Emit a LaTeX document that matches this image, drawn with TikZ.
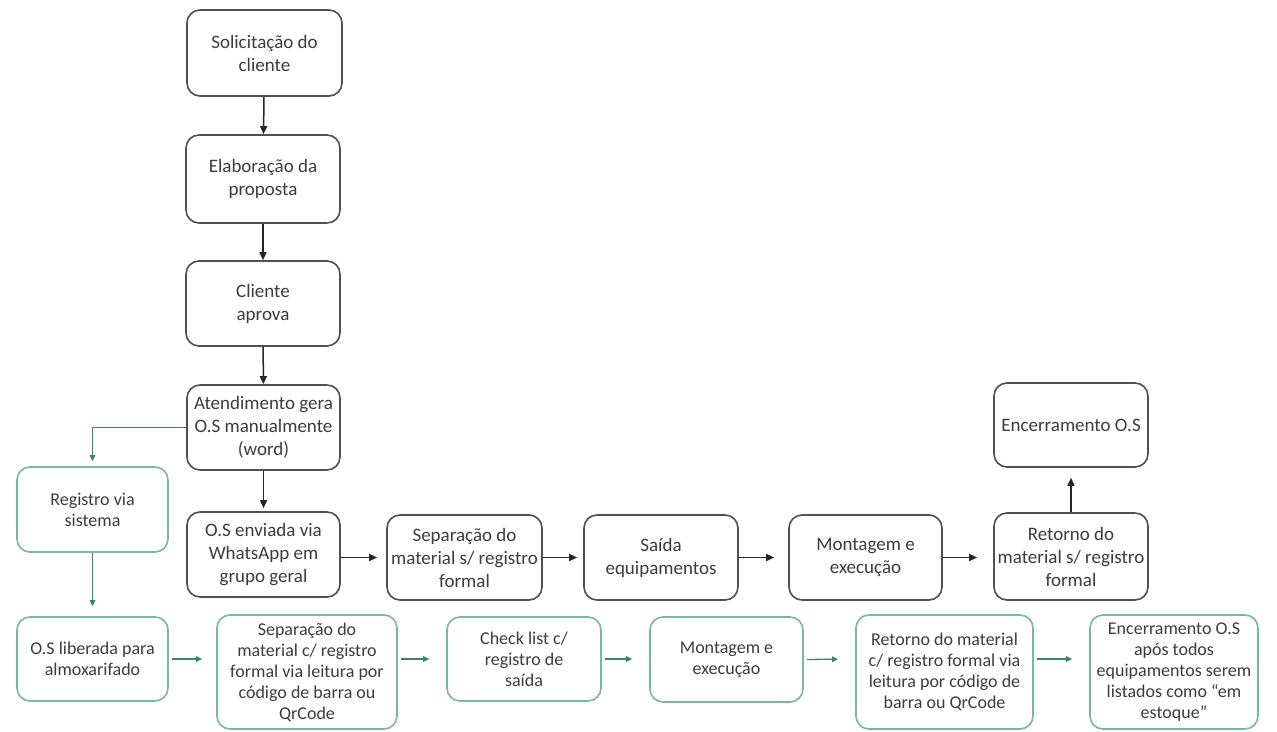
\documentclass[tikz,border=0pt]{standalone}
\usepackage{fontspec}
\setmainfont{Carlito}
\usetikzlibrary{arrows.meta,calc}
\definecolor{dk}{RGB}{80,80,80}
\definecolor{gline}{RGB}{55,135,105}
\definecolor{gbord}{RGB}{120,185,155}
\definecolor{txt}{RGB}{60,60,60}
\tikzset{
  bbox/.style={draw=dk, line width=1.6pt, rounded corners=13pt, align=center, text=txt, font=\fontsize{19}{23}\selectfont, inner sep=1pt},
  gbox/.style={draw=gbord, line width=1.6pt, rounded corners=13pt, align=center, text=txt, font=\fontsize{18}{21}\selectfont, inner sep=1pt},
  barrow/.style={draw=black!85, line width=1.5pt, -{Triangle[length=8pt,width=7pt]}},
  garrow/.style={draw=gline, line width=1.3pt, -{Triangle[length=6pt,width=5.5pt]}},
}
\begin{document}
\begin{tikzpicture}[x=1pt,y=-1pt]
\fill[white] (0,0) rectangle (1277,731);
\useasboundingbox (0,0) rectangle (1277,731);
% black column
\node[bbox, minimum width=155pt, minimum height=86pt] (n1) at (264.5,53) {Solicitação do\\cliente};
\node[bbox, minimum width=154pt, minimum height=88pt] (n2) at (263,179) {Elaboração da\\proposta};
\node[bbox, minimum width=154pt, minimum height=85pt] (n3) at (263,303.5) {Cliente\\aprova};
\node[bbox, minimum width=153pt, minimum height=85pt] (n4) at (263.5,427.5) {Atendimento gera\\O.S manualmente\\(word)};
\node[gbox, minimum width=151pt, minimum height=85pt] (n5) at (92.5,509.5) {Registro via\\sistema};
\node[bbox, minimum width=153pt, minimum height=85pt] (n6) at (263.5,554.5) {O.S enviada via\\WhatsApp em\\grupo geral};
\node[bbox, minimum width=155pt, minimum height=85pt] (n7) at (464.5,557.5) {Separação do\\material s/ registro\\formal};
\node[bbox, minimum width=154pt, minimum height=85pt] (n8) at (661,557.5) {Saída\\equipamentos};
\node[bbox, minimum width=153pt, minimum height=85pt] (n9) at (865.5,557.5) {Montagem e\\execução};
\node[bbox, minimum width=154pt, minimum height=87pt] (n10) at (1071,556.5) {Retorno do\\material s/ registro\\formal};
\node[bbox, minimum width=154pt, minimum height=84pt] (n11) at (1071,425) {Encerramento O.S};
% green row
\node[gbox, minimum width=151pt, minimum height=84pt] (g1) at (92.5,659) {O.S liberada para\\almoxarifado};
\node[gbox, minimum width=180pt, minimum height=114pt] (g2) at (307,672) {Separação do\\material c/ registro\\formal via leitura por\\código de barra ou\\QrCode};
\node[gbox, minimum width=154pt, minimum height=84pt] (g3) at (524,659) {Check list c/\\registro de\\saída};
\node[gbox, minimum width=153pt, minimum height=85pt] (g4) at (726.5,659.5) {Montagem e\\execução};
\node[gbox, minimum width=177pt, minimum height=114pt] (g5) at (944.5,672) {Retorno do material\\c/ registro formal via\\leitura por código de\\barra ou QrCode};
\node[gbox, minimum width=168pt, minimum height=114pt] (g6) at (1174,672) {Encerramento O.S\\após todos\\equipamentos serem\\listados como “em\\estoque”};
% black arrows
\draw[barrow] (n1) -- (n2);
\draw[barrow] (n2) -- (n3);
\draw[barrow] (n3) -- (n4);
\draw[barrow, shorten >=3pt] (n4) -- (n6);
\draw[barrow, shorten >=9pt] (n6.east|-n7.west) -- (n7.west);
\draw[barrow, shorten >=6pt] (n7.east) -- (n8.west);
\draw[barrow, shorten >=14pt] (n8.east) -- (n9.west);
\draw[barrow, shorten >=16pt] (n9.east) -- (n9.east-|n10.west);
\draw[barrow, shorten >=10pt] (n10.north) -- (n11.south);
% green arrows
\draw[garrow, shorten >=5pt] (n4.west) -| (n5.north);
\draw[garrow, shorten >=10pt] (n5.south) -- (g1.north);
\draw[garrow, shorten <=3pt, shorten >=14pt] (g1.east) -- (g1.east-|g2.west);
\draw[garrow, shorten <=3pt, shorten >=17pt] (g2.east|-g3.west) -- (g3.west);
\draw[garrow, shorten <=3pt, shorten >=17pt] (g3.east) -- (g3.east-|g4.west);
\draw[garrow, shorten <=3pt, shorten >=17pt] (g4.east-|g4.east) -- (g3.east-|g5.west);
\draw[garrow, shorten <=3pt, shorten >=17pt] (g3.east-|g5.east) -- (g3.east-|g6.west);
\end{tikzpicture}
\end{document}
